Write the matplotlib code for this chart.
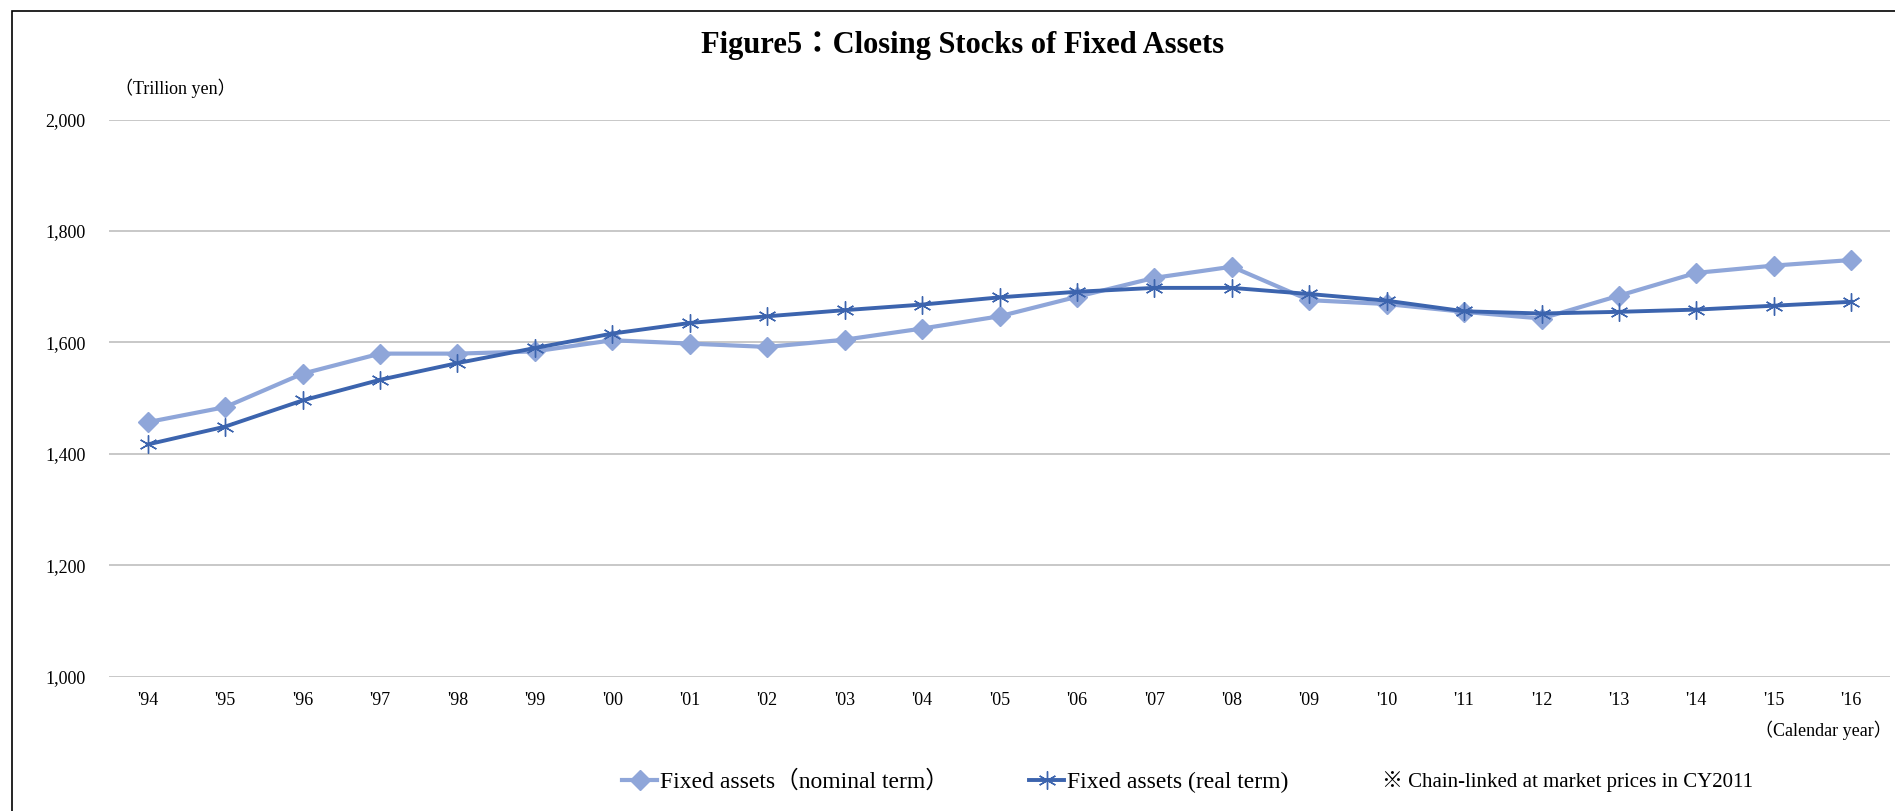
import matplotlib
matplotlib.use('Agg')
import matplotlib.pyplot as plt
from matplotlib.patches import Rectangle
from matplotlib.ticker import FuncFormatter

# 資料 (兆円)
years = ["'94", "'95", "'96", "'97", "'98", "'99", "'00", "'01", "'02", "'03", "'04", "'05",
         "'06", "'07", "'08", "'09", "'10", "'11", "'12", "'13", "'14", "'15", "'16"]
nominal = [1457, 1484, 1544, 1580, 1580, 1584, 1604, 1598, 1592, 1605, 1625, 1647,
           1682, 1716, 1736, 1676, 1669, 1655, 1643, 1684, 1725, 1738, 1748]
real = [1417, 1449, 1496, 1533, 1563, 1590, 1616, 1635, 1647, 1658, 1668, 1681,
        1691, 1698, 1698, 1687, 1675, 1656, 1652, 1655, 1659, 1666, 1673]
y_ticks = [1000, 1200, 1400, 1600, 1800, 2000]

fam = ['Liberation Serif', 'Noto Sans CJK JP', 'DejaVu Sans']
plt.rcParams['font.family'] = fam

c_nom = '#8FA6D9'
c_real = '#3C64AE'

fig = plt.figure(figsize=(18.95, 8.11), dpi=100)
ax = fig.add_axes([109 / 1895, 134.2 / 811, 1781 / 1895, 557.2 / 811])

x = list(range(len(years)))
ax.plot(x, nominal, color=c_nom, lw=3.0, marker='D', ms=10, mec=c_nom, mfc=c_nom,
        label='Fixed assets（nominal term）', zorder=3)
ax.plot(x, real, color=c_real, lw=2.8, marker=(6, 2, 0), ms=13, mec=c_real, mew=1.0,
        label='Fixed assets (real term)', zorder=4)

ax.set_xlim(-0.5, 22.5)
ax.set_ylim(1000, 2000)
ax.set_xticks(x)
ax.set_xticklabels(years, fontsize=13)
ax.set_yticks(y_ticks)
ax.yaxis.set_major_formatter(FuncFormatter(lambda v, p: f'{int(v):,}'))
ax.tick_params(axis='y', length=0, pad=17, labelsize=13)
ax.tick_params(axis='x', length=0, pad=11)
ax.grid(axis='y', color='#BFBFBF', lw=1.2)
ax.set_axisbelow(True)
for s in ax.spines.values():
    s.set_visible(False)

# 標題與說明文字
fig.text(0.508, 1 - 46 / 811, 'Figure5：Closing Stocks of Fixed Assets', ha='center', va='center',
         fontsize=22, fontweight='bold')
fig.text(115 / 1895, 1 - 88 / 811, '（Trillion yen）', ha='left', va='center', fontsize=13)
fig.text(1892 / 1895, 1 - 730 / 811, '（Calendar year）', ha='right', va='center', fontsize=13)
fig.text(1382 / 1895, 1 - 782 / 811, '※ Chain-linked at market prices in CY2011', ha='left', va='center',
         fontsize=15)

fig.legend(loc='center left', bbox_to_anchor=(622 / 1895, 1 - 782 / 811), ncol=2, frameon=False,
           fontsize=17, handlelength=1.5, handletextpad=0.1, columnspacing=3.4,
           borderpad=0, borderaxespad=0)

# 外框 (左、上)
fig.patches.append(Rectangle((12 / 1895, -0.5), 2.0, 1.5 - 11 / 811, transform=fig.transFigure,
                             fill=False, edgecolor='black', lw=1.2))

fig.savefig('out.png', dpi=100)
